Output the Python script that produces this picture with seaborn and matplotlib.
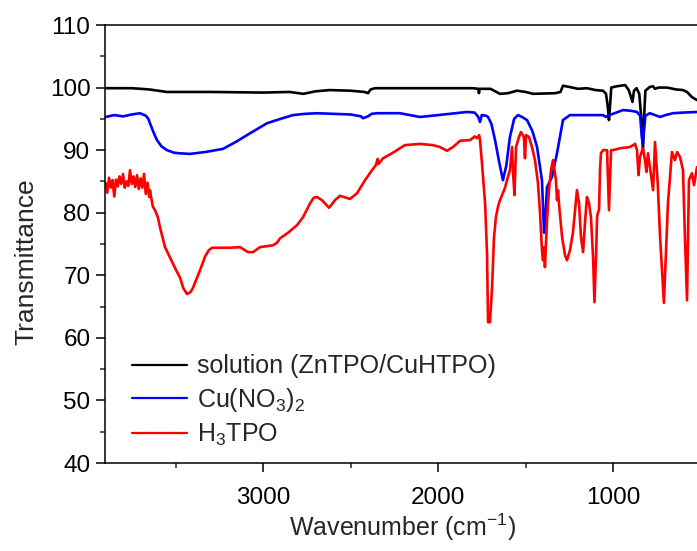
import numpy as np
import pandas as pd
import matplotlib
matplotlib.use("Agg")
import matplotlib.pyplot as plt
import seaborn as sns
from matplotlib.ticker import MultipleLocator

# ---------------- data ----------------
series_names = ["solution (ZnTPO/CuHTPO)", r"Cu(NO$_3$)$_2$", r"H$_3$TPO"]
series_colors = ["#000000", "#0000FF", "#FF0000"]

wn_black = [3900, 3750, 3650, 3550, 3300, 3000, 2850, 2770, 2700, 2620, 2500, 2420, 2400, 2385,
            2360, 2000, 1800, 1770, 1766, 1762, 1700, 1646, 1600, 1549, 1500, 1457, 1330, 1300,
            1286, 1250, 1200, 1149, 1100, 1057, 1040, 1030, 1023, 1016, 1010, 980, 931, 910, 903,
            889, 880, 865, 850, 838, 829, 822, 815, 790, 771, 760, 740, 691, 640, 600, 577, 550, 520]
t_black = [99.9, 99.9, 99.7, 99.3, 99.3, 99.2, 99.3, 99.0, 99.4, 99.6, 99.5, 99.3, 99.1, 99.7,
           99.9, 99.9, 99.9, 99.8, 99.1, 99.8, 99.8, 99.0, 99.1, 99.5, 99.3, 99.0, 99.1, 99.3,
           100.3, 100.1, 99.8, 99.9, 99.6, 99.5, 99.0, 97.0, 94.8, 97.5, 100.0, 100.2, 100.4, 99.6, 99.0,
           97.7, 99.5, 99.9, 99.0, 95.0, 90.0, 95.5, 99.5, 100.1, 100.2, 99.8, 100.0, 100.0, 99.7, 99.6,
           99.3, 98.5, 98.0]

wn_blue = [3900, 3850, 3800, 3750, 3703, 3670, 3655, 3646, 3625, 3606, 3580, 3549, 3510, 3480,
           3417, 3330, 3229, 3150, 3074, 2977, 2900, 2829, 2760, 2691, 2500, 2440, 2429, 2400,
           2380, 2349, 2217, 2103, 2000, 1900, 1834, 1790, 1770, 1760, 1750, 1725, 1714, 1695,
           1674, 1650, 1629, 1610, 1589, 1565, 1543, 1520, 1491, 1460, 1434, 1406, 1394, 1385,
           1377, 1349, 1320, 1286, 1246, 1100, 1057, 1040, 1030, 943, 900, 863, 845, 835, 829,
           823, 815, 789, 731, 700, 657, 600, 520]
t_blue = [95.3, 95.6, 95.4, 95.7, 95.9, 95.5, 95.0, 94.3, 92.8, 91.6, 90.6, 90.0, 89.6, 89.5,
          89.4, 89.7, 90.2, 91.4, 92.7, 94.3, 95.0, 95.6, 95.8, 95.9, 95.7, 95.4, 95.1, 95.4,
          95.8, 95.9, 95.9, 95.3, 95.6, 95.9, 96.1, 96.0, 95.3, 94.5, 95.6, 95.5, 95.3, 94.2,
          91.6, 88.0, 85.2, 87.5, 92.1, 95.0, 95.6, 95.3, 94.8, 93.0, 90.5, 85.2, 76.8, 80.0,
          84.1, 85.7, 89.5, 94.8, 95.6, 95.6, 95.6, 95.3, 95.5, 96.4, 96.3, 96.1, 95.5, 92.0,
          91.0, 93.0, 95.5, 95.9, 95.3, 95.6, 95.9, 96.0, 96.1]

wn_red = [3900, 3890, 3880, 3870, 3860, 3850, 3840, 3830, 3820, 3810, 3800, 3790, 3780, 3770,
          3760, 3750, 3740, 3730, 3720, 3710, 3700, 3690, 3680, 3670, 3660, 3650, 3646, 3630,
          3617, 3600, 3589, 3560, 3531, 3500, 3474, 3455, 3434, 3415, 3400, 3389, 3360, 3331,
          3310, 3291, 3189, 3131, 3086, 3057, 3017, 2943, 2920, 2903, 2857, 2806, 2771, 2731,
          2710, 2691, 2663, 2623, 2605, 2589, 2560, 2503, 2463, 2417, 2377, 2355, 2345, 2340,
          2314, 2263, 2217, 2189, 2103, 2029, 1989, 1949, 1914, 1874, 1817, 1790, 1777, 1765,
          1760, 1749, 1731, 1720, 1714, 1703, 1691, 1680, 1669, 1657, 1646, 1634, 1617, 1606,
          1589, 1577, 1571, 1563, 1554, 1537, 1526, 1509, 1503, 1497, 1480, 1463, 1446, 1429,
          1417, 1406, 1400, 1394, 1389, 1377, 1366, 1354, 1343, 1326, 1320, 1314, 1309, 1291,
          1274, 1263, 1246, 1229, 1217, 1206, 1194, 1183, 1171, 1160, 1149, 1137, 1126, 1114,
          1106, 1097, 1091, 1086, 1080, 1074, 1069, 1057, 1034, 1023, 1011, 1000, 960, 903,
          874, 863, 854, 846, 829, 817, 809, 800, 771, 760, 745, 731, 709, 686, 663, 646, 634,
          617, 600, 589, 577, 566, 549, 537, 520]
t_red = [84.8, 83.2, 85.6, 84.0, 85.2, 82.6, 85.3, 84.2, 85.8, 84.6, 86.2, 84.0, 85.0, 84.3,
         86.8, 84.6, 85.8, 84.1, 86.0, 83.8, 85.5, 84.0, 86.2, 83.0, 84.8, 82.5, 83.6, 81.0,
         80.4, 79.2, 77.7, 74.5, 72.8, 71.0, 69.6, 67.9, 67.0, 67.3, 68.0, 68.8, 70.8, 73.0,
         74.0, 74.4, 74.4, 74.5, 73.7, 73.7, 74.5, 74.8, 75.2, 75.9, 76.8, 78.0, 79.3, 81.5,
         82.4, 82.5, 82.0, 80.8, 81.4, 82.0, 82.7, 82.2, 83.1, 85.2, 86.8, 87.6, 88.6, 87.8,
         88.7, 89.5, 90.3, 90.8, 91.0, 90.8, 90.5, 89.9, 90.5, 91.5, 91.6, 92.2, 91.9, 92.4,
         91.6, 88.0, 81.5, 73.6, 62.5, 62.5, 68.1, 76.1, 79.3, 81.0, 82.0, 82.8, 84.0, 85.2,
         86.8, 90.5, 86.3, 82.8, 90.5, 92.1, 92.9, 92.1, 88.7, 92.4, 92.1, 90.5, 88.4, 84.8,
         80.0, 74.0, 72.4, 74.5, 71.3, 78.8, 83.6, 86.8, 88.4, 85.2, 82.0, 83.6, 81.5, 76.1,
         73.2, 72.4, 74.0, 76.8, 80.4, 83.6, 81.5, 76.1, 73.7, 78.4, 82.5, 81.5, 79.3, 72.9,
         65.7, 72.9, 79.3, 80.0, 80.4, 86.8, 89.5, 90.0, 90.0, 80.4, 90.0, 90.0, 90.3, 90.5,
         91.0, 90.0, 86.0, 88.9, 90.3, 88.4, 86.5, 89.5, 83.6, 91.3, 85.0, 76.1, 65.6, 81.5,
         89.7, 88.4, 89.7, 88.9, 86.8, 76.1, 66.0, 85.2, 86.3, 84.4, 87.3]

x_major_ticks = [3000, 2000, 1000]
y_major_ticks = [40, 50, 60, 70, 80, 90, 100, 110]

# ---------------- style ----------------
sns.set_style("ticks")
plt.rcParams["font.family"] = ["Liberation Sans", "DejaVu Sans"]
plt.rcParams["mathtext.fontset"] = "custom"
plt.rcParams["mathtext.rm"] = "Liberation Sans"
plt.rcParams["mathtext.it"] = "Liberation Sans:italic"
plt.rcParams["mathtext.bf"] = "Liberation Sans:bold"
plt.rcParams["axes.unicode_minus"] = True

fig = plt.figure(figsize=(6.97, 5.51), dpi=100)
# axes extends slightly beyond right edge (reference is cropped)
ax = fig.add_axes([105 / 697, 88 / 551, 595.5 / 697, 438 / 551])

frames = []
for name, wn, t in zip(series_names, [wn_black, wn_blue, wn_red], [t_black, t_blue, t_red]):
    frames.append(pd.DataFrame({"wn": wn, "T": t, "series": name}))
df = pd.concat(frames, ignore_index=True)

sns.lineplot(data=df, x="wn", y="T", hue="series", hue_order=series_names,
             palette=series_colors, sort=False, estimator=None, linewidth=1.9, ax=ax)

ax.set_xlim(3903, 500)
ax.set_ylim(40, 110)
ax.set_xticks(x_major_ticks)
ax.xaxis.set_minor_locator(MultipleLocator(500))
ax.set_yticks(y_major_ticks)
ax.yaxis.set_minor_locator(MultipleLocator(5))

for side in ["left", "bottom", "top", "right"]:
    ax.spines[side].set_linewidth(1.1)
    ax.spines[side].set_color("black")

ax.tick_params(axis="both", which="major", direction="out", length=6.5, width=1.1,
               labelsize=17.5, colors="black", pad=4)
ax.tick_params(axis="x", which="major", pad=11)
ax.tick_params(axis="both", which="minor", direction="out", length=3.5, width=1.1)

ax.set_xlabel(r"Wavenumber (cm$^{-1}$)", fontsize=18, labelpad=2)
ax.set_ylabel("Transmittance", fontsize=19)
ax.yaxis.set_label_coords(-0.1125, 0.459)

leg = ax.legend(loc="lower left", bbox_to_anchor=(0.045, 0.035), frameon=False,
                fontsize=18, handlelength=2.2, handletextpad=0.4, borderpad=0,
                borderaxespad=0, labelspacing=0.3)
for line in leg.get_lines():
    line.set_linewidth(1.6)

fig.savefig("out.png", dpi=100)
